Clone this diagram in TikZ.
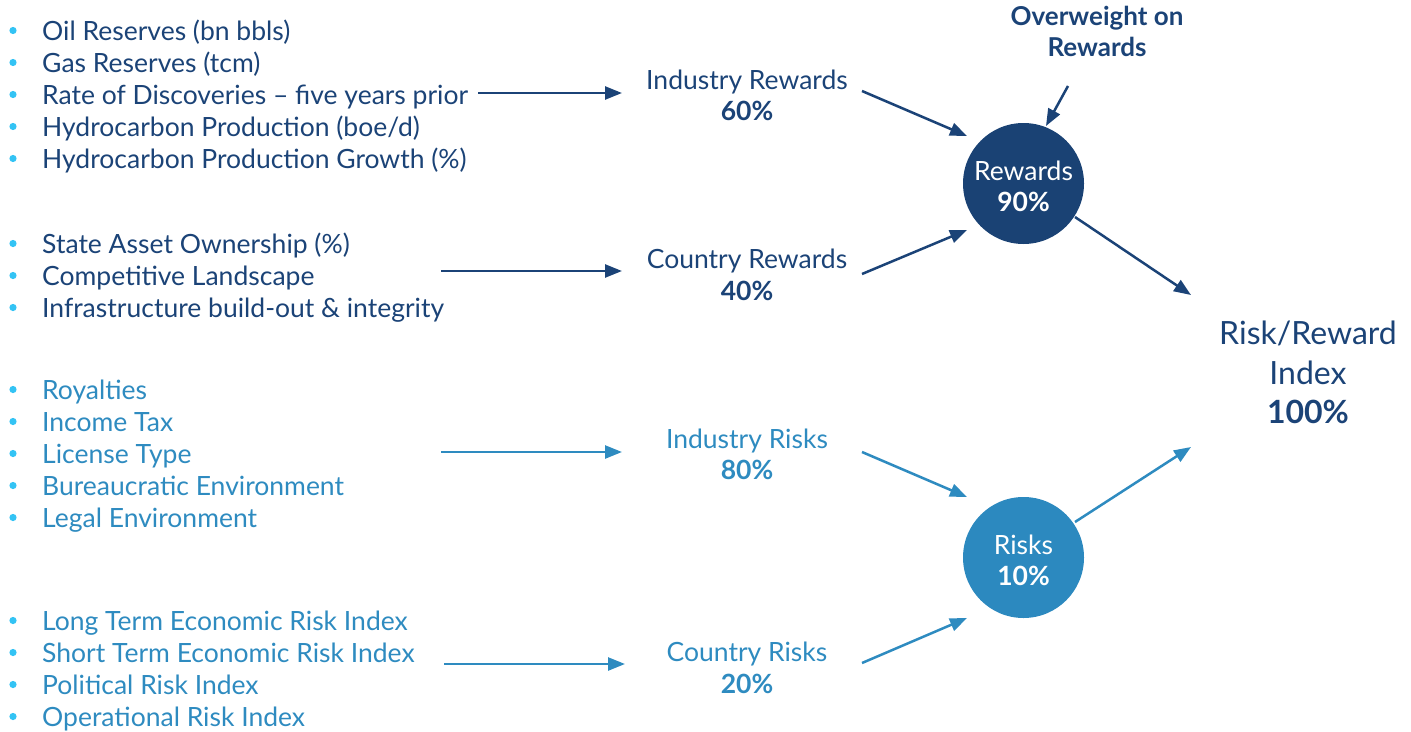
\documentclass[tikz,border=0pt]{standalone}
\usepackage{fontspec}
\setmainfont{Lato}
\usetikzlibrary{arrows.meta}
\definecolor{navy}{HTML}{1B4377}
\definecolor{lblue}{HTML}{2E8BC0}
\definecolor{bul}{HTML}{33C3F4}
\definecolor{navyfill}{HTML}{1A4274}
\definecolor{lbluefill}{HTML}{2C89BF}
\begin{document}
\begin{tikzpicture}[x=1pt,y=-1pt,
  item/.style={anchor=base west, inner sep=0pt, font=\fontsize{26.5}{30}\selectfont},
  lbl/.style={anchor=base, inner sep=0pt, font=\fontsize{26.5}{30}\selectfont},
  big/.style={anchor=base, inner sep=0pt, font=\fontsize{32}{38}\selectfont, text=navy},
  owt/.style={anchor=base, inner sep=0pt, font=\fontsize{26}{30}\selectfont\bfseries, text=navy},
  arr/.style={line width=2.5pt, -{Triangle[length=17pt,width=13pt]}},
  disc/.style={circle, inner sep=0pt, minimum size=121pt}]
\useasboundingbox (0,0) rectangle (1411,731);

% group 1
\foreach \t [count=\i] in {Oil Reserves (bn bbls),Gas Reserves (tcm),Rate of Discoveries – five years prior,Hydrocarbon Production (boe/d),Hydrocarbon Production Growth (\%)}{
  \fill[bul] (13,{30.5+32*(\i-1)}) circle (3.6pt);
  \node[item,text=navy] (g1-\i) at (42,{40+32*(\i-1)}) {\t};
}
% group 2
\foreach \t [count=\i] in {State Asset Ownership (\%),Competitive Landscape,Infrastructure build-out \& integrity}{
  \fill[bul] (13,{243.5+32*(\i-1)}) circle (3.6pt);
  \node[item,text=navy] (g2-\i) at (42,{253+32*(\i-1)}) {\t};
}
% group 3
\foreach \t [count=\i] in {Royalties,Income Tax,License Type,Bureaucratic Environment,Legal Environment}{
  \fill[bul] (13,{389.5+32*(\i-1)}) circle (3.6pt);
  \node[item,text=lblue] (g3-\i) at (42,{399+32*(\i-1)}) {\t};
}
% group 4
\foreach \t [count=\i] in {Long Term Economic Risk Index,Short Term Economic Risk Index,Political Risk Index,Operational Risk Index}{
  \fill[bul] (13,{620.5+32*(\i-1)}) circle (3.6pt);
  \node[item,text=lblue] (g4-\i) at (42,{630+32*(\i-1)}) {\t};
}

% middle labels
\node[lbl,text=navy] (ir) at (747,89.5) {Industry Rewards};
\node[lbl,text=navy] (irp) at (747,120.5) {\textbf{60\%}};
\node[lbl,text=navy] (cr) at (747,268.5) {Country Rewards};
\node[lbl,text=navy] (crp) at (747,300.5) {\textbf{40\%}};
\node[lbl,text=lblue] (iri) at (747,448.5) {Industry Risks};
\node[lbl,text=lblue] (irip) at (747,479.5) {\textbf{80\%}};
\node[lbl,text=lblue] (cri) at (747,661.5) {Country Risks};
\node[lbl,text=lblue] (crip) at (747,693.5) {\textbf{20\%}};

% circles
\node[disc,fill=navyfill] (rew) at (1023.5,183.5) {};
\node[lbl,text=white] (rewt) at (1023.5,180.5) {Rewards};
\node[lbl,text=white] (rewp) at (1023.5,211.5) {\textbf{90\%}};
\node[disc,fill=lbluefill] (risk) at (1023.5,557.5) {};
\node[lbl,text=white] (riskt) at (1023.5,554.5) {Risks};
\node[lbl,text=white] (riskp) at (1023.5,585.5) {\textbf{10\%}};

% index
\node[big] (rr1) at (1308,344.5) {Risk/Reward};
\node[big] (rr2) at (1308,384.5) {Index};
\node[big] (rr3) at (1308,423.5) {\textbf{100\%}};

% overweight
\node[owt] (ow1) at (1097,25) {Overweight on};
\node[owt] (ow2) at (1097,56) {Rewards};

% connector end points
\coordinate (h1s) at (478,93);  \coordinate (h1e) at (622,93);
\coordinate (h2s) at (441,271); \coordinate (h2e) at (622,271);
\coordinate (h3s) at (441,452); \coordinate (h3e) at (622,452);
\coordinate (h4s) at (444,664); \coordinate (h4e) at (625,664);
\coordinate (d1s) at (862,91);  \coordinate (d1e) at (967,136);
\coordinate (d2s) at (862,274); \coordinate (d2e) at (967,230);
\coordinate (d3s) at (1075,217); \coordinate (d3e) at (1191,295);
\coordinate (d4s) at (862,452); \coordinate (d4e) at (967,497);
\coordinate (d5s) at (862,663); \coordinate (d5e) at (967,618);
\coordinate (d6s) at (1075,522); \coordinate (d6e) at (1191,447);
\coordinate (ows) at (1068,86); \coordinate (owe) at (1046,126);

\draw[arr,navy] (h1s) -- (h1e);
\draw[arr,navy] (h2s) -- (h2e);
\draw[arr,lblue] (h3s) -- (h3e);
\draw[arr,lblue] (h4s) -- (h4e);
\draw[arr,navy] (d1s) -- (d1e);
\draw[arr,navy] (d2s) -- (d2e);
\draw[arr,navy] (d3s) -- (d3e);
\draw[arr,lblue] (d4s) -- (d4e);
\draw[arr,lblue] (d5s) -- (d5e);
\draw[arr,lblue] (d6s) -- (d6e);
\draw[arr,navy] (ows) -- (owe);
\end{tikzpicture}
\end{document}
